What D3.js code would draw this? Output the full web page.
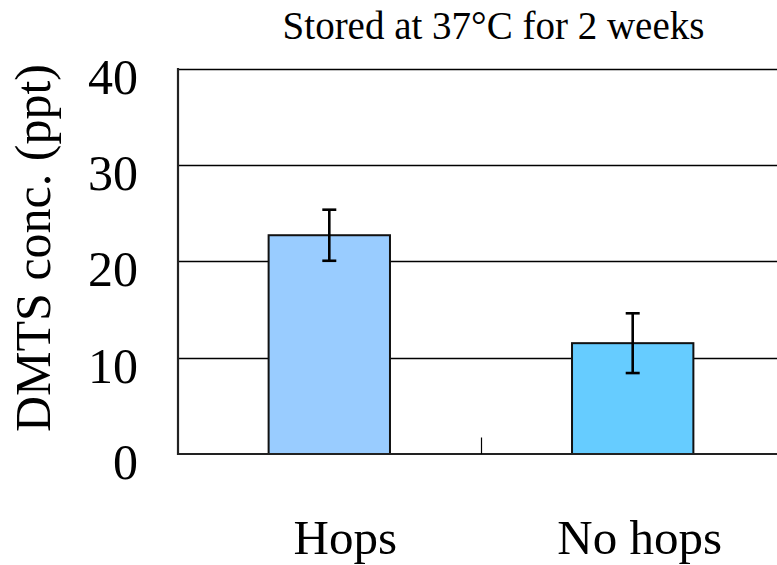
<!DOCTYPE html>
<html>
<head>
<meta charset="utf-8">
<script src="https://cdn.jsdelivr.net/npm/d3@7"></script>
<style>
  html, body { margin: 0; padding: 0; background: #fff; }
  svg { display: block; }
  text { font-family: "Liberation Serif", "Times New Roman", serif; fill: #000; }
</style>
</head>
<body>
<svg id="chart" width="777" height="565"></svg>
<script>
// DMTS concentration after storage, with and without hops
const categories = ["Hops", "No hops"];
const means = [22.7, 11.5];
const errors = [2.65, 3.1];
const barColors = ["#99CCFF", "#66CCFF"];
const yTicks = [0, 10, 20, 30, 40];
const title = "Stored at 37\u00B0C for 2 weeks";
const yTitle = "DMTS conc. (ppt)";

const svg = d3.select("#chart");
const W = 777, H = 565;
const plot = { left: 178, right: 784.4, top: 68.5, bottom: 454 };

const y = d3.scaleLinear().domain([0, 40]).range([plot.bottom, plot.top]);
const x = d3.scaleBand()
  .domain(categories)
  .range([plot.left - 0.4, plot.right])
  .paddingInner(0.6)
  .paddingOuter(0.3);

// horizontal gridlines (the 40 line doubles as the top edge)
svg.append("g")
  .selectAll("line")
  .data(yTicks.filter(d => d > 0))
  .join("line")
  .attr("x1", plot.left)
  .attr("x2", plot.right)
  .attr("y1", d => Math.round(y(d)) + 0.5)
  .attr("y2", d => Math.round(y(d)) + 0.5)
  .attr("stroke", "#000")
  .attr("stroke-width", 1.3);

// y tick labels
svg.append("g")
  .selectAll("text")
  .data(yTicks)
  .join("text")
  .attr("x", 138)
  .attr("y", d => y(d) + 25)
  .attr("text-anchor", "end")
  .attr("font-size", 50)
  .text(d => d);

// bars
const idx = d3.range(categories.length);
svg.append("g")
  .selectAll("rect")
  .data(idx)
  .join("rect")
  .attr("x", i => x(categories[i]))
  .attr("y", i => y(means[i]))
  .attr("width", x.bandwidth())
  .attr("height", i => y(0) - y(means[i]))
  .attr("fill", i => barColors[i])
  .attr("stroke", "#111")
  .attr("stroke-width", 2);

// error bars
const cap = 7;
const eb = svg.append("g").attr("stroke", "#000").attr("stroke-width", 2.6);
idx.forEach(i => {
  const cx = x(categories[i]) + x.bandwidth() / 2;
  const hi = y(means[i] + errors[i]);
  const lo = y(means[i] - errors[i]);
  eb.append("line").attr("x1", cx).attr("x2", cx).attr("y1", hi).attr("y2", lo);
  eb.append("line").attr("x1", cx - cap).attr("x2", cx + cap).attr("y1", hi).attr("y2", hi);
  eb.append("line").attr("x1", cx - cap).attr("x2", cx + cap).attr("y1", lo).attr("y2", lo);
});

// axes lines
svg.append("line")
  .attr("x1", plot.left).attr("x2", plot.left)
  .attr("y1", plot.top - 0.5).attr("y2", plot.bottom + 1)
  .attr("stroke", "#222").attr("stroke-width", 2.2);
svg.append("line")
  .attr("x1", plot.left).attr("x2", plot.right)
  .attr("y1", plot.bottom).attr("y2", plot.bottom)
  .attr("stroke", "#222").attr("stroke-width", 2.2);

// category divider ticks on the x axis
const dividers = categories.slice(1).map(c => x(c) - x.step() * x.paddingInner() / 2);
svg.append("g")
  .selectAll("line")
  .data(dividers)
  .join("line")
  .attr("x1", d => Math.round(d) + 0.5)
  .attr("x2", d => Math.round(d) + 0.5)
  .attr("y1", plot.bottom - 16.5)
  .attr("y2", plot.bottom)
  .attr("stroke", "#000")
  .attr("stroke-width", 1.2);

// category labels
const labelShift = [16, 7];
svg.append("g")
  .selectAll("text")
  .data(idx)
  .join("text")
  .attr("x", i => x(categories[i]) + x.bandwidth() / 2 + labelShift[i])
  .attr("y", 554)
  .attr("text-anchor", "middle")
  .attr("font-size", 49)
  .text(i => categories[i]);

// chart title
svg.append("text")
  .attr("x", 493.5)
  .attr("y", 39)
  .attr("text-anchor", "middle")
  .attr("font-size", 39)
  .text(title);

// y axis title
svg.append("text")
  .attr("transform", "translate(50,248) rotate(-90)")
  .attr("text-anchor", "middle")
  .attr("font-size", 50)
  .text(yTitle);
</script>
</body>
</html>
